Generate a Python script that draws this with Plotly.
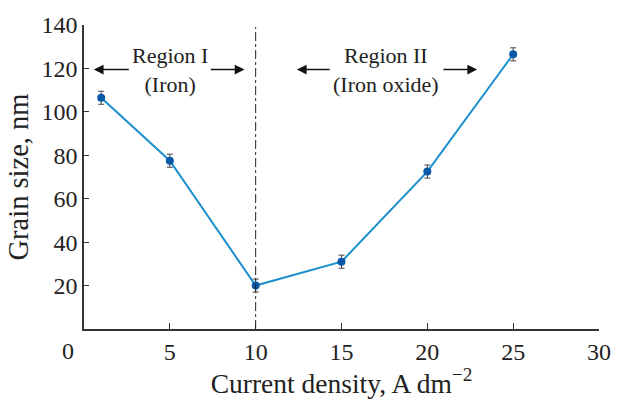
import plotly.graph_objects as go

current_density = [1, 5, 10, 15, 20, 25]
grain_size = [106.5, 77.5, 20, 31, 72.5, 126.5]
grain_err = [3, 3, 3, 3, 3, 3]
x_ticks = [5, 10, 15, 20, 25, 30]
y_ticks = [20, 40, 60, 80, 100, 120, 140]

FONT = "Liberation Serif"
L, R, T, B = 84, 16, 25, 67
PW, PH = 623 - L - R, 399 - T - B

fig = go.Figure()
fig.add_trace(go.Scatter(
    x=current_density, y=grain_size, mode="lines+markers",
    line=dict(color="#1b8fcc", width=2),
    marker=dict(color="#0a58a8", size=8),
    error_y=dict(type="data", array=grain_err, color="#444", thickness=1, width=3),
    showlegend=False,
))
fig.add_shape(type="line", x0=10, x1=10, y0=0, y1=139, xref="x", yref="y",
              line=dict(color="#222", width=1, dash="dashdot"))

arrows = [(0.57, 2.7), (9.35, 7.3), (12.4, 14.4), (22.9, 20.85)]
for head, tail in arrows:
    fig.add_annotation(x=head, y=119.5, ax=tail, ay=119.5, xref="x", yref="y",
                       axref="x", ayref="y", text="", showarrow=True,
                       arrowhead=2, arrowsize=1.3, arrowwidth=1.5, arrowcolor="#111")
fig.add_annotation(x=5, y=119.5, xref="x", yref="y", text="Region I<br>(Iron)",
                   showarrow=False, font=dict(family=FONT, size=22, color="#222"))
fig.add_annotation(x=17.6, y=119.5, xref="x", yref="y", text="Region II<br>(Iron oxide)",
                   showarrow=False, font=dict(family=FONT, size=22, color="#222"))
fig.add_annotation(x=(68 - L) / PW, y=(399 - B - 354) / PH, xref="paper", yref="paper",
                   xanchor="center", yanchor="middle",
                   text="0", showarrow=False,
                   font=dict(family=FONT, size=24, color="#222"))

fig.update_layout(
    width=623, height=399, margin=dict(l=L, r=R, t=T, b=B),
    paper_bgcolor="white", plot_bgcolor="white",
    font=dict(family=FONT, size=24, color="#222"),
    xaxis=dict(range=[0, 30], tickvals=x_ticks, ticks="inside", ticklen=6,
               tickcolor="#333", showline=True, linecolor="#333", linewidth=1.5,
               showgrid=False, zeroline=False,
               title=dict(text="Current density, A dm<sup>−2</sup>", standoff=3,
                          font=dict(family=FONT, size=27.5))),
    yaxis=dict(range=[0, 140], tickvals=y_ticks, ticks="inside", ticklen=5,
               tickcolor="#333", showline=True, linecolor="#333", linewidth=1.5,
               showgrid=False, zeroline=False,
               title=dict(text="Grain size, nm", standoff=4,
                          font=dict(family=FONT, size=28.5))),
)
fig.write_html("out.html")
